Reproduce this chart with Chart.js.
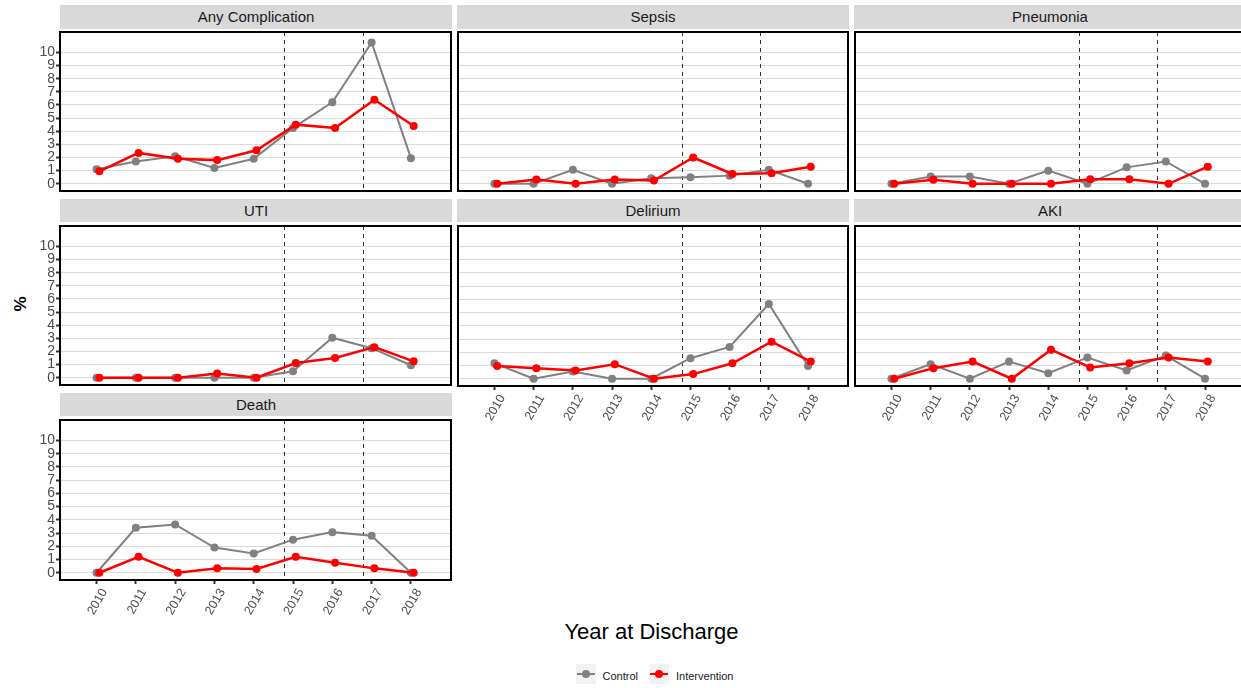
<!DOCTYPE html>
<html>
<head>
<meta charset="utf-8">
<script src="https://cdn.jsdelivr.net/npm/chart.js@4.4.1/dist/chart.umd.min.js"></script>
<style>
html,body{margin:0;padding:0;background:#fff;overflow:hidden;width:1241px;height:688px;}
body{position:relative;font-family:"Liberation Sans",Arial,sans-serif;}
canvas{position:absolute;}
.strip{position:absolute;background:#D9D9D9;color:#1A1A1A;font-size:15px;text-align:center;white-space:nowrap;}
.ytitle{position:absolute;left:21px;top:304px;transform:translate(-50%,-50%) rotate(-90deg);font-size:17px;font-weight:bold;color:#000;white-space:nowrap;}
.xtitle{position:absolute;left:651.5px;top:632px;transform:translate(-50%,-50%);font-size:22px;color:#000;white-space:nowrap;}
.key{position:absolute;width:20px;height:20px;background:#F2F2F2;}
.key .ln{position:absolute;left:1px;right:1px;top:9px;height:2px;}
.key .pt{position:absolute;left:6px;top:6px;width:8px;height:8px;border-radius:50%;}
.ltxt{position:absolute;font-size:11px;color:#1A1A1A;line-height:14px;white-space:nowrap;}
</style>
</head>
<body>
<div class="ytitle">%</div>
<div class="xtitle">Year at Discharge</div>
<div class="key" style="left:576px;top:664px"><div class="ln" style="background:#808080"></div><div class="pt" style="background:#808080"></div></div>
<div class="ltxt" style="left:602.5px;top:669px">Control</div>
<div class="key" style="left:649px;top:664px"><div class="ln" style="background:#FF0000"></div><div class="pt" style="background:#FF0000"></div></div>
<div class="ltxt" style="left:676px;top:669px">Intervention</div>
<script>
// ---- data ----
const years = [2010, 2011, 2012, 2013, 2014, 2015, 2016, 2017, 2018];
const yTicks = [0, 1, 2, 3, 4, 5, 6, 7, 8, 9, 10];
const changePoints = [2014.78, 2016.78];
const seriesNames = ['Control', 'Intervention'];

const anyControl            = [1.1, 1.7, 2.1, 1.2, 1.9, 4.25, 6.2, 10.75, 1.95];
const anyIntervention       = [0.95, 2.35, 1.9, 1.8, 2.55, 4.5, 4.25, 6.4, 4.4];
const sepsisControl         = [0, 0, 1.07, 0, 0.42, 0.5, 0.62, 1.07, 0];
const sepsisIntervention    = [0, 0.33, 0, 0.33, 0.25, 2.0, 0.75, 0.8, 1.3];
const pneumoniaControl      = [0, 0.55, 0.55, 0, 1.0, 0, 1.25, 1.7, 0];
const pneumoniaIntervention = [0, 0.3, 0, 0, 0, 0.35, 0.35, 0, 1.3];
const utiControl            = [0, 0, 0, 0, 0, 0.5, 3.05, 2.25, 0.95];
const utiIntervention       = [0, 0, 0, 0.33, 0, 1.12, 1.5, 2.33, 1.25];
const deliriumControl       = [1.17, 0, 0.55, 0, 0, 1.55, 2.4, 5.65, 0.97];
const deliriumIntervention  = [0.97, 0.8, 0.62, 1.1, 0, 0.35, 1.17, 2.8, 1.3];
const akiControl            = [0, 1.1, 0, 1.3, 0.42, 1.6, 0.62, 1.75, 0];
const akiIntervention       = [0, 0.8, 1.3, 0, 2.2, 0.85, 1.17, 1.6, 1.3];
const deathControl          = [0, 3.4, 3.65, 1.9, 1.45, 2.5, 3.07, 2.8, 0];
const deathIntervention     = [0, 1.2, 0, 0.33, 0.28, 1.2, 0.75, 0.33, 0];

// ---- layout / style ----
const FONT = '"Liberation Sans", Arial, sans-serif';
const colLeft = [60, 457, 854];
const rowTop = [31, 224.5, 418.5];
const PLOT_W = 392, PLOT_H = 161;
const Y_W = 60, X_H = 46, PAD = 3;
const X_MIN = 2009.07, X_MAX = 2019.02;
const Y_MIN = -0.55, Y_MAX = 11.55;
const DODGE = 0.07;

const panels = [
  {name: 'Any Complication', c: anyControl, i: anyIntervention, col: 0, row: 0, showY: true, showX: false},
  {name: 'Sepsis', c: sepsisControl, i: sepsisIntervention, col: 1, row: 0, showY: false, showX: false},
  {name: 'Pneumonia', c: pneumoniaControl, i: pneumoniaIntervention, col: 2, row: 0, showY: false, showX: false},
  {name: 'UTI', c: utiControl, i: utiIntervention, col: 0, row: 1, showY: true, showX: false},
  {name: 'Delirium', c: deliriumControl, i: deliriumIntervention, col: 1, row: 1, showY: false, showX: true},
  {name: 'AKI', c: akiControl, i: akiIntervention, col: 2, row: 1, showY: false, showX: true},
  {name: 'Death', c: deathControl, i: deathIntervention, col: 0, row: 2, showY: true, showX: true}
];

const panelDeco = {
  id: 'panelDeco',
  beforeDatasetsDraw(chart) {
    const {ctx, chartArea: a} = chart;
    const x = chart.scales.x;
    ctx.save();
    ctx.strokeStyle = '#333333';
    ctx.lineWidth = 1;
    ctx.setLineDash([4, 4]);
    changePoints.forEach(v => {
      const px = Math.round(x.getPixelForValue(v)) + 0.5;
      ctx.beginPath();
      ctx.moveTo(px, a.top);
      ctx.lineTo(px, a.bottom);
      ctx.stroke();
    });
    ctx.restore();
  },
  afterDatasetsDraw(chart) {
    const {ctx, chartArea: a} = chart;
    ctx.save();
    ctx.strokeStyle = '#000000';
    ctx.lineWidth = 2;
    ctx.strokeRect(a.left, a.top, a.right - a.left, a.bottom - a.top);
    ctx.restore();
  }
};

panels.forEach(p => {
  const plotLeft = colLeft[p.col];
  const plotTop = rowTop[p.row];
  const yw = p.showY ? Y_W : 0;
  const xh = p.showX ? X_H : 0;

  const strip = document.createElement('div');
  strip.className = 'strip';
  strip.textContent = p.name;
  strip.style.left = plotLeft + 'px';
  strip.style.top = (plotTop - 26) + 'px';
  strip.style.width = PLOT_W + 'px';
  strip.style.height = '23.5px';
  strip.style.lineHeight = '23.5px';
  document.body.appendChild(strip);

  const cv = document.createElement('canvas');
  const W = yw + PLOT_W + 2 * PAD;
  const H = PLOT_H + xh + 2 * PAD;
  cv.width = W; cv.height = H;
  cv.style.width = W + 'px'; cv.style.height = H + 'px';
  cv.style.left = (plotLeft - yw - PAD) + 'px';
  cv.style.top = (plotTop - PAD) + 'px';
  document.body.appendChild(cv);

  new Chart(cv, {
    type: 'line',
    data: {
      datasets: [
        {
          label: seriesNames[0],
          data: years.map((yr, k) => ({x: yr, y: p.c[k]})),
          borderColor: '#808080', backgroundColor: '#808080',
          borderWidth: 2, pointRadius: 4, pointBorderWidth: 0,
          pointBackgroundColor: '#808080', tension: 0, order: 1
        },
        {
          label: seriesNames[1],
          data: years.map((yr, k) => ({x: yr + DODGE, y: p.i[k]})),
          borderColor: '#FF0000', backgroundColor: '#FF0000',
          borderWidth: 2.5, pointRadius: 4, pointBorderWidth: 0,
          pointBackgroundColor: '#FF0000', tension: 0, order: 0
        }
      ]
    },
    options: {
      responsive: false,
      animation: false,
      devicePixelRatio: 1,
      layout: {padding: PAD},
      plugins: {legend: {display: false}, tooltip: {enabled: false}},
      scales: {
        x: {
          type: 'linear', min: X_MIN, max: X_MAX,
          display: p.showX,
          afterBuildTicks: s => { s.ticks = years.map(v => ({value: v})); },
          afterFit: s => { s.height = xh; s.paddingLeft = 0; s.paddingRight = 0; },
          grid: {drawOnChartArea: false, drawTicks: true, tickLength: 4, tickColor: '#333333', tickWidth: 2},
          border: {display: false},
          ticks: {
            autoSkip: false, maxRotation: 60, minRotation: 60, padding: 2, labelOffset: 8,
            color: '#4D4D4D', font: {size: 12.5, family: FONT},
            callback: v => String(v)
          }
        },
        y: {
          type: 'linear', min: Y_MIN, max: Y_MAX,
          afterBuildTicks: s => { s.ticks = yTicks.map(v => ({value: v})); },
          afterFit: s => { s.width = yw; s.paddingTop = 0; s.paddingBottom = 0; },
          grid: {color: '#DADADA', lineWidth: 1, drawTicks: p.showY, tickLength: 4, tickColor: '#333333', tickWidth: 2},
          border: {display: false},
          ticks: {
            display: p.showY, autoSkip: false, padding: 1,
            color: '#4D4D4D', font: {size: 14, family: FONT},
            callback: v => String(v)
          }
        }
      }
    },
    plugins: [panelDeco]
  });
});
</script>
</body>
</html>
